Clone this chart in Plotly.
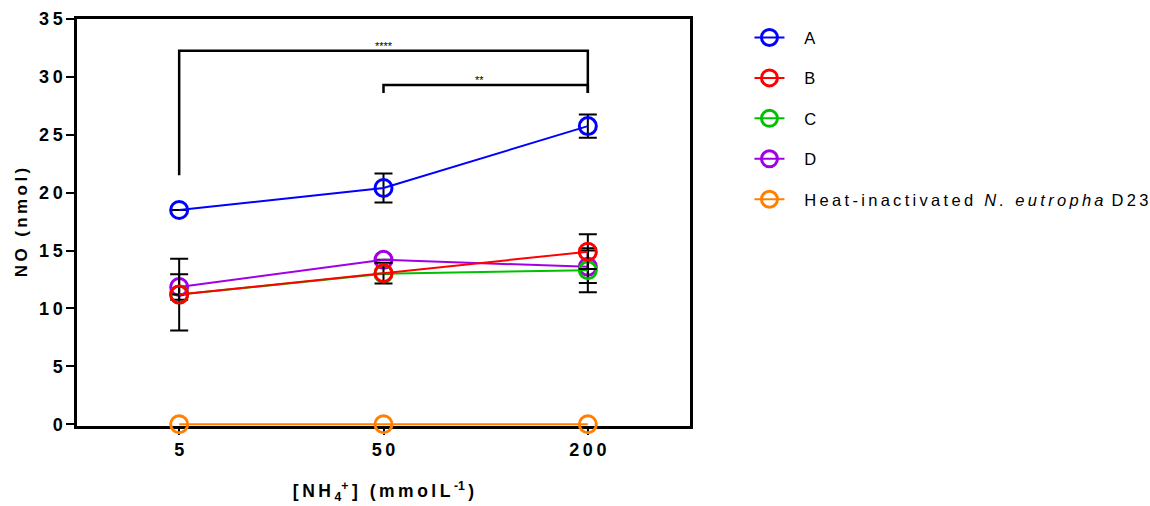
import plotly.graph_objects as go

# NH4+ concentrations (mmol/L) on the x axis
concentrations = ["5", "50", "200"]

# NO produced (nmol), mean and error per strain (None = no bar drawn)
no_a = [18.5, 20.4, 25.75]
err_a = [None, 1.25, 1.0]
no_b = [11.2, 13.05, 14.9]
err_b = [3.1, 0.9, 1.5]
no_c = [11.2, 13.0, 13.3]
err_c = [None, None, 1.9]
no_d = [11.85, 14.2, 13.6]
err_d = [1.1, None, 1.4]
no_heat = [0.0, 0.0, 0.0]

y_ticks = [0, 5, 10, 15, 20, 25, 30, 35]

THIN = "\u2009"
LEGEND_PAD = "\u2002\u2009\u2009"


def spaced(s):
    return THIN.join(s)


FONT = "Liberation Sans, Arial, sans-serif"

series = [
    # name, values, errors, colour, legend rank (drawing order: D, C, B, A, heat)
    ("D", no_d, err_d, "#A100E6", 4),
    ("C", no_c, err_c, "#00C000", 3),
    ("B", no_b, err_b, "#FF0000", 2),
    ("A", no_a, err_a, "#0000FF", 1),
    (spaced("Heat-inactivated ") + THIN + "<i>" + spaced("N. eutropha") + "</i>" + THIN + " " + spaced("D23"),
     no_heat, None, "#FF8000", 5),
]

fig = go.Figure()
for name, vals, errs, color, rank in series:
    err = None
    if errs is not None:
        err = dict(type="data", array=errs, visible=True, color="black",
                   thickness=2, width=9)
    fig.add_trace(go.Scatter(
        x=concentrations, y=vals, name=LEGEND_PAD + name, mode="lines+markers",
        line=dict(color=color, width=2),
        marker=dict(symbol="circle-open", size=17, color=color,
                    line=dict(width=3, color=color)),
        error_y=err, cliponaxis=False, legendrank=rank,
        legendgroup=str(rank),
    ))

# significance brackets
bracket = dict(color="black", width=2.5)
fig.add_shape(type="path", xref="x", yref="y",
              path="M 0,21.5 L 0,32.25 L 2,32.25 L 2,28.6", line=bracket)
fig.add_shape(type="path", xref="x", yref="y",
              path="M 1,28.6 L 1,29.3 L 2,29.3 L 2,28.6", line=bracket)
fig.add_annotation(x=1, y=32.25, xref="x", yref="y", text="****",
                   showarrow=False, yanchor="bottom", yshift=-3,
                   font=dict(size=11, color="#000000", family=FONT))
fig.add_annotation(x=1.47, y=29.3, xref="x", yref="y", text="**",
                   showarrow=False, yanchor="bottom", yshift=-3,
                   font=dict(size=11, color="#000000", family=FONT))

fig.update_layout(
    width=1150, height=506,
    margin=dict(l=77, r=460, t=19, b=80, autoexpand=False),
    plot_bgcolor="white", paper_bgcolor="white",
    font=dict(family=FONT, color="black"),
    showlegend=True,
    legend=dict(x=1.097, y=0.997, xanchor="left", yanchor="top",
                font=dict(size=16.5, family=FONT, color="black"),
                tracegroupgap=16, itemwidth=30,
                bgcolor="rgba(0,0,0,0)"),
)
fig.update_xaxes(
    type="category", range=[-0.5, 2.5],
    tickvals=concentrations, ticktext=[spaced(c) for c in concentrations],
    showline=True, linecolor="black", linewidth=2.5, mirror=True,
    ticks="outside", ticklen=6, tickwidth=2, tickcolor="black",
    showgrid=False, zeroline=False, layer="below traces",
    tickfont=dict(size=18, family=FONT, color="black", weight="bold"),
    title=dict(text=spaced("[NH") + THIN + "<sub>4</sub><sup>+</sup>" + THIN + spaced("] (mmolL") + THIN + "<sup>-1</sup>" + THIN + ")",
               font=dict(size=17.5, family=FONT, color="black", weight="bold"),
               standoff=26),
)
fig.update_yaxes(
    range=[-0.15, 35], tickvals=y_ticks, ticktext=[spaced(str(v)) for v in y_ticks],
    showline=True, linecolor="black", linewidth=2.5, mirror=True,
    ticks="outside", ticklen=8, tickwidth=2, tickcolor="black",
    showgrid=False, zeroline=False,
    tickfont=dict(size=18, family=FONT, color="black", weight="bold"),
    title=dict(text=spaced("NO (nmol)"),
               font=dict(size=17, family=FONT, color="black", weight="bold"),
               standoff=8),
)

fig.write_html("out.html")
